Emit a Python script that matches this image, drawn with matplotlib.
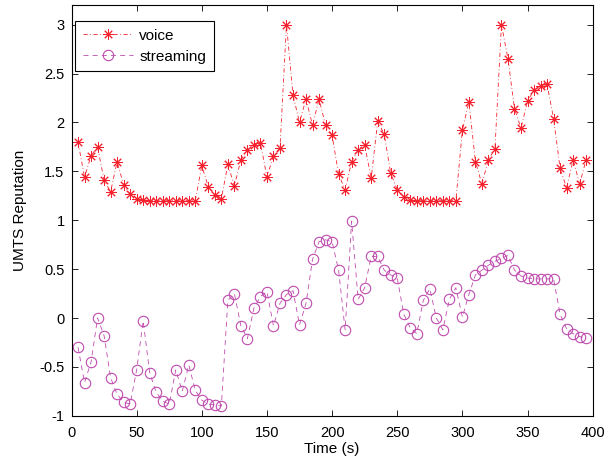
import numpy as np
import matplotlib
matplotlib.use("Agg")  # headless
import matplotlib.pyplot as plt

plt.rcParams["font.family"] = ["Liberation Sans", "DejaVu Sans"]

# time axis: one sample every 5 s
time_s = np.arange(5, 400, 5)

voice = [
    1.80, 1.44, 1.66, 1.75, 1.41, 1.29, 1.60, 1.36, 1.27, 1.22,
    1.21, 1.20, 1.20, 1.20, 1.20, 1.20, 1.20, 1.20, 1.20, 1.56,
    1.34, 1.26, 1.22, 1.57, 1.35, 1.62, 1.72, 1.77, 1.79, 1.44,
    1.66, 1.74, 3.00, 2.28, 2.00, 2.24, 1.97, 2.24, 1.97, 1.87,
    1.47, 1.31, 1.60, 1.72, 1.77, 1.43, 2.01, 1.88, 1.48, 1.31,
    1.24, 1.21, 1.20, 1.20, 1.20, 1.20, 1.20, 1.20, 1.20, 1.92,
    2.21, 1.60, 1.37, 1.62, 1.73, 3.00, 2.65, 2.14, 1.94, 2.22,
    2.33, 2.37, 2.39, 2.04, 1.53, 1.33, 1.62, 1.37, 1.62,
]

streaming = [
    -0.30, -0.66, -0.45, 0.00, -0.18, -0.61, -0.78, -0.86, -0.88, -0.53,
    -0.03, -0.56, -0.76, -0.85, -0.88, -0.53, -0.75, -0.48, -0.74, -0.84,
    -0.88, -0.89, -0.90, 0.18, 0.25, -0.08, -0.21, 0.10, 0.22, 0.27,
    -0.08, 0.15, 0.24, 0.28, -0.07, 0.15, 0.60, 0.78, 0.80, 0.78,
    0.49, -0.12, 0.99, 0.19, 0.31, 0.63, 0.63, 0.49, 0.44, 0.41,
    0.04, -0.10, -0.16, 0.18, 0.30, 0.00, -0.12, 0.19, 0.31, 0.01,
    0.24, 0.44, 0.49, 0.54, 0.58, 0.61, 0.64, 0.49, 0.43, 0.41,
    0.40, 0.40, 0.40, 0.40, 0.04, -0.11, -0.16, -0.19, -0.20,
]

voice_color = "#f5222d"
stream_color = "#bf4aae"

fig = plt.figure(figsize=(6.06, 4.61), dpi=100)
ax = fig.add_axes([0.118, 0.098, 0.860, 0.891])

# matlab-like '*' marker: 8-spoke asterisk
ax.plot(time_s, voice, linestyle=(0, (5, 3, 1, 3)), color=voice_color, linewidth=0.6,
        marker=(8, 2, 0), markersize=7.5, markeredgewidth=0.7, label="voice")
ax.plot(time_s, streaming, linestyle=(0, (6, 5)), color=stream_color, linewidth=0.6,
        marker="o", markersize=7.5, markerfacecolor="none", markeredgewidth=0.8,
        label="streaming")

ax.set_xlim(0, 400)
ax.set_ylim(-1, 3.2)
ax.set_xticks(np.arange(0, 401, 50))
ax.set_yticks(np.arange(-1, 3.01, 0.5))
ax.set_yticklabels(["-1", "-0.5", "0", "0.5", "1", "1.5", "2", "2.5", "3"])
ax.tick_params(direction="in", top=True, right=True, labelsize=10.5, length=4, width=0.6,
               pad=5)
ax.tick_params(axis="x", pad=7)
for sp in ax.spines.values():
    sp.set_linewidth(0.8)

ax.set_xlabel("Time (s)", fontsize=11, labelpad=2)
ax.set_ylabel("UMTS Reputation", fontsize=11, labelpad=9)

leg = ax.legend(loc="upper left", bbox_to_anchor=(0.007, 0.961), fontsize=11,
                fancybox=False, framealpha=1, edgecolor="black", borderaxespad=0,
                handlelength=3.3, borderpad=0.5, labelspacing=0.45, handletextpad=0.4)
leg.get_frame().set_linewidth(0.8)

plt.savefig("out.png", dpi=100)
